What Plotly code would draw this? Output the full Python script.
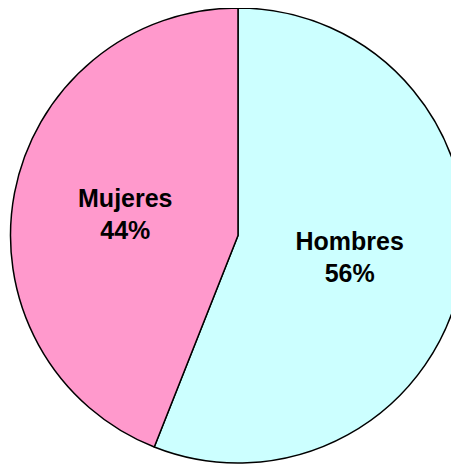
import plotly.graph_objects as go

labels = ['Hombres', 'Mujeres']
values = [56, 44]
colors = ['#CCFFFF', '#FF99CC']

fig = go.Figure()

fig.add_trace(go.Pie(
    labels=labels,
    values=values,
    sort=False,
    direction='clockwise',
    rotation=0,
    marker=dict(colors=colors, line=dict(color='#000000', width=1.5)),
    texttemplate='<b>%{label}<br>%{percent:.0%}</b>',
    textposition='inside',
    insidetextorientation='horizontal',
    textfont=dict(family='Liberation Sans, Arial', size=25, color='#000000'),
    hoverinfo='label+percent',
    # page adds an 8px body margin, so the domain is shifted up/left to compensate
    domain=dict(x=[2.5 / 459, 457.5 / 459], y=[11 / 466, 1]),
))

fig.update_layout(
    width=459,
    height=466,
    margin=dict(l=0, r=0, t=0, b=0),
    showlegend=False,
    paper_bgcolor='white',
    plot_bgcolor='white',
)

fig.write_html("out.html")
